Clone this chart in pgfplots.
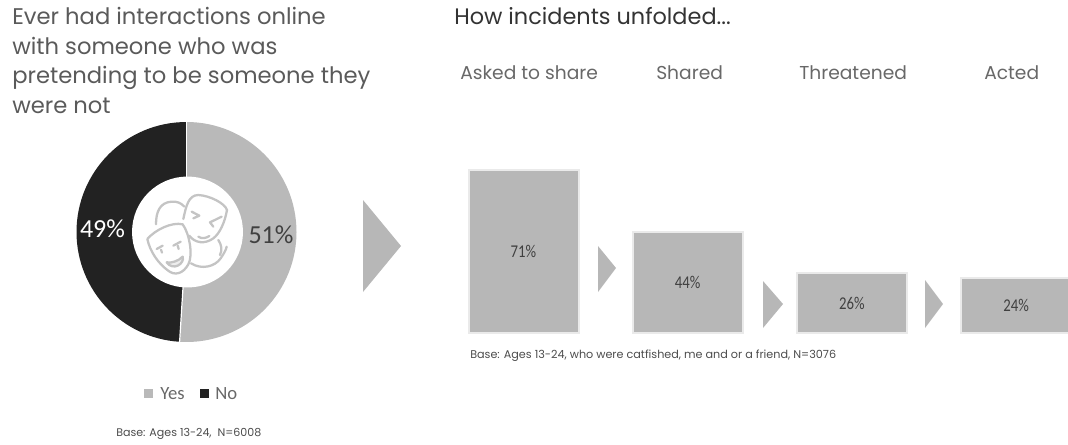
\documentclass[border=0pt]{standalone}
\usepackage{pgfplots}
\usepackage{pgfplotstable}
\usepackage{fontspec}
\pgfplotsset{compat=1.18}
\setmainfont{Poppins}
\newfontfamily\calib{Carlito}
\definecolor{wedgeGrey}{HTML}{B9B9B9}
\definecolor{wedgeBlack}{HTML}{222222}
\definecolor{barGrey}{HTML}{B7B7B7}
\definecolor{barEdge}{HTML}{EAEAEA}
\definecolor{titleGrey}{HTML}{5A5A5A}
\definecolor{headGrey}{HTML}{686868}
\definecolor{iconGrey}{HTML}{C4C4C4}

% Share of respondents per answer
\pgfplotstableread{
answer share
Yes 51
No 49
}\sharetable
% Stages of an incident
\pgfplotstableread{
stage pct
0 71
1 44
2 26
3 24
}\stagetable

% One canvas unit is 0.75pt, measured from the top left corner
\tikzset{cv/.style={x=0.75pt,y=-0.75pt,yshift=333pt}}

\begin{document}
\begin{tikzpicture}
\useasboundingbox (0,0) rectangle (801pt,333pt);
% Donut, in canvas coordinates
\begin{axis}[
  at={(0,0)}, anchor=south west,
  width=801pt, height=333pt, scale only axis,
  xmin=0, xmax=1068, ymin=0, ymax=444, y dir=reverse,
  hide axis, clip=false,
]
\pgfplotstablegetelem{0}{share}\of\sharetable
\pgfmathsetmacro{\splitangle}{90-3.6*\pgfplotsretval}
\fill[wedgeGrey] (axis cs:186.5,122) arc[start angle=90,end angle=\splitangle,radius=82.5pt]
  -- (axis cs:186.5,232) -- cycle;
\fill[wedgeBlack] (axis cs:186.5,122) arc[start angle=90,end angle=\splitangle+360,radius=82.5pt]
  -- (axis cs:186.5,232) -- cycle;
\draw[white,line width=0.9pt] (axis cs:186.5,232) -- ++(90:83pt);
\draw[white,line width=0.9pt] (axis cs:186.5,232) -- ++(\splitangle:83pt);
\fill[white] (axis cs:187.5,232) circle[radius=41.6pt];
\node[text=white,font=\calib\fontsize{19.5}{19.5}\selectfont] at (axis cs:102.5,229) {49\%};
\node[text=black!75,font=\calib\fontsize{19.5}{19.5}\selectfont] at (axis cs:271,235) {51\%};
\end{axis}

% Stage bars; value 0 sits on the shared baseline
\begin{axis}[
  at={(330pt,0)}, anchor=south west,
  width=471pt, height=333pt, scale only axis,
  xmin=-0.5085, xmax=3.316,
  ymin=-48.26, ymax=144.78,
  hide axis, clip=true,
]
\addplot[ybar, bar width=82.5pt, fill=barGrey, draw=barEdge, line width=1.5pt,
  bar shift=0pt] table[x=stage,y=pct] {\stagetable};
\addplot[draw=none, mark=none, point meta=\thisrow{pct},
  nodes near coords={\pgfmathprintnumber[assume math mode=true]{\pgfplotspointmeta}\%},
  nodes near coords align={center},
  every node near coord/.append style={text=black!75,
    font=\calib\fontsize{13.5}{13.5}\selectfont\addfontfeature{FakeStretch=0.82}}]
  table[x=stage,y expr=\thisrow{pct}/2] {\stagetable};
\end{axis}

% Text, chevrons and mask icon
\begin{scope}[cv]
\fill[barGrey] (363,200) -- (401,246) -- (363,292) -- cycle;
\fill[barGrey] (598,246) -- (616,268) -- (598,292) -- cycle;
\fill[barGrey] (763,281) -- (783,304) -- (763,328) -- cycle;
\fill[barGrey] (925,280) -- (943,304) -- (925,328) -- cycle;

\foreach \ty/\tx in {24.5/Ever had interactions online,54/with someone who was,83/pretending to be someone they,113/were not}
  \node[anchor=base west,inner sep=0,text=titleGrey,font=\fontsize{17}{17}\selectfont] at (12,\ty) {\tx};
\node[anchor=base west,inner sep=0,text=black!80,font=\fontsize{16.8}{16.8}\selectfont] at (454,25) {How incidents unfolded...};
\foreach \tx/\ta in {460/Asked to share,656/Shared,799/Threatened,984/Acted}
  \node[anchor=base west,inner sep=0,text=headGrey,font=\fontsize{14}{14}\selectfont] at (\tx,79) {\ta};
\node[anchor=west,inner sep=0,text=black!70,font=\fontsize{8.4}{8.4}\selectfont] at (470,356) {Base: Ages 13-24, who were catfished, me and or a friend, N=3076};
\node[anchor=west,inner sep=0,text=black!70,font=\fontsize{8.3}{8.3}\selectfont] at (116,434) {Base: Ages 13-24,\ \ N=6008};

% Legend
\fill[wedgeGrey] (144,389) rectangle (153,398);
\node[anchor=base west,inner sep=0,text=headGrey,font=\calib\fontsize{14}{14}\selectfont] at (160,399) {Yes};
\fill[wedgeBlack] (200,389) rectangle (209,398);
\node[anchor=base west,inner sep=0,text=headGrey,font=\calib\fontsize{14}{14}\selectfont] at (215,399) {No};

% Mask icon
\begin{scope}[shift={(130,175)},x=0.25pt,y=-0.25pt,draw=iconGrey,line width=1.7pt,line cap=round,line join=round]
\draw (160,132) .. controls (168,95) and (175,60) .. (205,60) .. controls (240,62) and (285,85) .. (291,105)
  .. controls (285,140) and (270,175) .. (250,190) .. controls (225,208) and (195,205) .. (178,182);
\draw (78,148) .. controls (78,110) and (90,82) .. (125,80) .. controls (140,78) and (155,85) .. (163,95);
\draw (52,192) .. controls (75,165) and (125,140) .. (158,148) .. controls (178,175) and (190,240) .. (175,268)
  .. controls (160,295) and (135,305) .. (112,285) .. controls (85,265) and (60,230) .. (52,192);
\draw (183,265) .. controls (215,285) and (255,275) .. (272,250) .. controls (282,235) and (288,225) .. (290,215);
\draw (265,195) .. controls (275,210) and (277,225) .. (270,240);
\draw (185,110) -- (208,122) -- (190,130);
\draw (275,125) -- (240,142) -- (250,155);
\draw (205,185) .. controls (215,192) and (228,190) .. (238,183);
\draw (80,222) -- (98,212);
\draw (130,212) -- (152,200);
\draw (93,224) -- (96,233);
\draw (143,212) -- (146,222);
\draw[fill=iconGrey!30] (110,262) .. controls (125,265) and (145,258) .. (158,245) .. controls (165,265) and (130,290) .. (110,262) -- cycle;
\end{scope}
\end{scope}
\end{tikzpicture}
\end{document}
